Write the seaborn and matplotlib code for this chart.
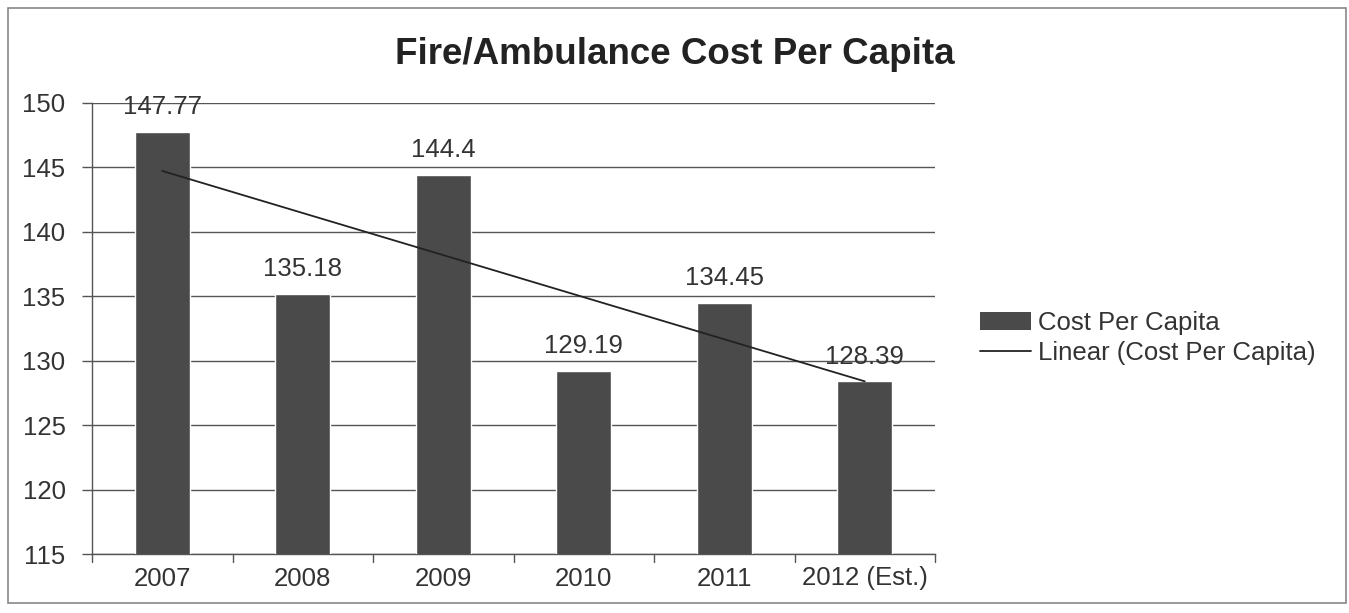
import numpy as np
import pandas as pd
import matplotlib
matplotlib.use("Agg")
import matplotlib.pyplot as plt
import seaborn as sns
from matplotlib.patches import Rectangle, Patch
from matplotlib.lines import Line2D

years = ["2007", "2008", "2009", "2010", "2011", "2012 (Est.)"]
cost = [147.77, 135.18, 144.4, 129.19, 134.45, 128.39]
labels = ["147.77", "135.18", "144.4", "129.19", "134.45", "128.39"]
yticks = [115, 120, 125, 130, 135, 140, 145, 150]

sns.set_theme(style="white")
plt.rcParams['font.family'] = ['Liberation Sans', 'DejaVu Sans']

df = pd.DataFrame({"year": years, "cost": cost})

fig = plt.figure(figsize=(13.49, 6.13), dpi=100)
ax = fig.add_axes([92/1349, 1 - 554/613, (935-92)/1349, (554-103)/613])

sns.barplot(data=df, x="year", y="cost", color="#4a4a4a", width=0.39,
            saturation=1, ax=ax, zorder=3)
ax.set_ylim(115, 150)
ax.set_xlim(-0.5, len(years) - 0.5)
ax.set_yticks(yticks)
ax.set_yticklabels([str(t) for t in yticks], fontsize=18.5, color="#333333")
ax.tick_params(axis="x", labelsize=18.5, colors="#333333", length=0, pad=9)
ax.tick_params(axis="y", length=7, width=1, color="#555555", pad=12, left=True)
ax.set_xlabel("")
ax.set_ylabel("")
ax.yaxis.grid(True, color="#555555", linewidth=1)
ax.set_axisbelow(True)
for s in ["top", "right"]:
    ax.spines[s].set_visible(False)
for s in ["left", "bottom"]:
    ax.spines[s].set_color("#555555")
    ax.spines[s].set_linewidth(1)
for b in np.arange(-0.5, len(years), 1.0):
    ax.plot([b, b], [115, 114.4], color="#555555", lw=1, clip_on=False)

# linear trendline
xs = np.arange(len(cost))
m, c = np.polyfit(xs, cost, 1)
sns.lineplot(x=xs, y=m * xs + c, color="#222222", linewidth=1.3, ax=ax, zorder=4)

for i, (v, lab) in enumerate(zip(cost, labels)):
    ax.text(i, v + 1.0, lab, ha="center", va="bottom", fontsize=18.5, color="#333333", zorder=5)

fig.suptitle("Fire/Ambulance Cost Per Capita", x=0.5, y=1 - 55/613, va="center",
             fontsize=26.5, fontweight="bold", color="#222222")

handles = [Patch(facecolor="#4a4a4a", edgecolor="none"),
           Line2D([0], [0], color="#222222", lw=1.3)]
fig.legend(handles, ["Cost Per Capita", "Linear (Cost Per Capita)"],
           loc="center left", bbox_to_anchor=(962/1349, 1 - 338/613),
           frameon=False, fontsize=18.5, handlelength=2.0, handletextpad=0.25,
           labelspacing=0.25, labelcolor="#333333", borderpad=0.2)

fig.patches.append(Rectangle((8/1349, 1 - 603/613), (1346-8)/1349, (603-8)/613,
                             transform=fig.transFigure, fill=False,
                             edgecolor="#888888", linewidth=1.2))

fig.savefig("out.png", dpi=100)
